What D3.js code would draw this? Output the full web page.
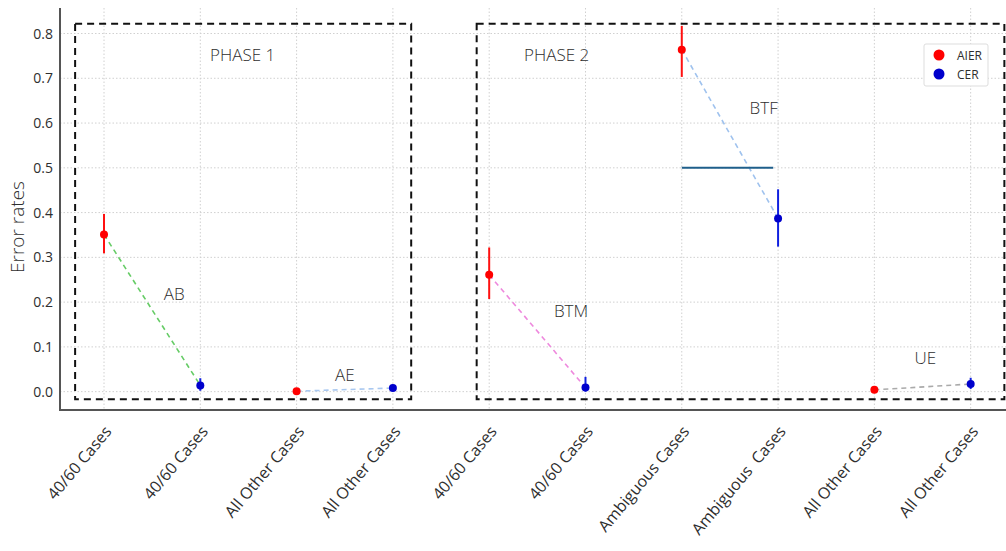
<!DOCTYPE html>
<html><head><meta charset="utf-8">
<script src="https://cdn.jsdelivr.net/npm/d3@7"></script>
<style>body{margin:0;background:#fff}svg{display:block;font-family:"Open Sans",sans-serif}</style>
</head><body><svg id="c" width="1006" height="551"></svg>
<script>
const categories = ["40/60 Cases","40/60 Cases","All Other Cases","All Other Cases","40/60 Cases","40/60 Cases","Ambiguous Cases","Ambiguous  Cases","All Other Cases","All Other Cases"];
const series = ["AIER","CER","AIER","CER","AIER","CER","AIER","CER","AIER","CER"];
const values = [0.351,0.014,0.001,0.008,0.261,0.009,0.764,0.387,0.004,0.017];
const errLow = [0.309,0.002,0.0,0.004,0.207,0.0,0.703,0.324,0.002,0.006];
const errHigh = [0.397,0.030,0.003,0.012,0.322,0.033,0.817,0.452,0.006,0.031];
const yTicks = [0.0,0.1,0.2,0.3,0.4,0.5,0.6,0.7,0.8];
const pairs = [{a:0,b:1,label:"AB",lx:0.73,ly:0.205},{a:2,b:3,label:"AE",lx:2.5,ly:0.024},{a:4,b:5,label:"BTM",lx:4.85,ly:0.167},{a:6,b:7,label:"BTF",lx:6.85,ly:0.62},{a:8,b:9,label:"UE",lx:8.53,ly:0.062}];
const pairColors = ["#66cc66","#a9c8f0","#ee88dd","#9fc2ee","#aaaaaa"];
const phases = [{label:"PHASE 1",x0:-0.3,x1:3.19,lx:1.44},{label:"PHASE 2",x0:3.87,x1:9.35,lx:4.7}];
const phaseBox = [-0.017,0.822];
const refLine = {x0:6,x1:6.95,y:0.5};
const seriesColor = {AIER:"#ff0000",CER:"#0000cc"};

const svg = d3.select("#c");
const x = d3.scaleLinear().domain([-0.457,9.45]).range([60,1014]);
const y = d3.scaleLinear().domain([-0.041,0.857]).range([410,8]);
const txt = "#2e2e2e";

// grid
svg.append("g").selectAll("line").data(yTicks).join("line")
  .attr("x1",60).attr("x2",1006).attr("y1",d=>y(d)).attr("y2",d=>y(d))
  .attr("stroke","#d0d0d0").attr("stroke-dasharray","1.5,2");
svg.append("g").selectAll("line").data(categories.map((c,i)=>i)).join("line")
  .attr("x1",d=>x(d)).attr("x2",d=>x(d)).attr("y1",8).attr("y2",410)
  .attr("stroke","#d0d0d0").attr("stroke-dasharray","1.5,2");

// y axis
const ya = svg.append("g").attr("transform","translate(60,0)")
  .call(d3.axisLeft(y).tickValues(yTicks).tickFormat(d3.format(".1f")).tickSize(0).tickPadding(7));
ya.select(".domain").remove();
ya.selectAll("text").attr("font-size",14).attr("fill",txt).attr("font-family","Open Sans");

// x axis
const xa = svg.append("g").attr("transform","translate(0,410)")
  .call(d3.axisBottom(x).tickValues(categories.map((c,i)=>i)).tickFormat(i=>categories[i]).tickSize(0));
xa.select(".domain").remove();
xa.selectAll("text").attr("font-size",16).attr("fill",txt).attr("font-family","Open Sans")
  .attr("text-anchor","end").attr("dy",null).attr("y",0).style("white-space","pre")
  .attr("transform","translate(8,22) rotate(-50)");

// spines
svg.append("line").attr("x1",60).attr("x2",1006).attr("y1",410).attr("y2",410).attr("stroke","#555").attr("stroke-width",2.2);
svg.append("line").attr("x1",60).attr("x2",60).attr("y1",8).attr("y2",411).attr("stroke","#555").attr("stroke-width",2);

// y label
svg.append("text").attr("transform","translate(24,227) rotate(-90)").attr("text-anchor","middle")
  .attr("font-size",19).attr("fill",txt).attr("font-family","Open Sans").attr("font-weight",300).text("Error rates");

// phase boxes
svg.append("g").selectAll("rect").data(phases).join("rect")
  .attr("x",d=>x(d.x0)).attr("width",d=>x(d.x1)-x(d.x0))
  .attr("y",y(phaseBox[1])).attr("height",y(phaseBox[0])-y(phaseBox[1]))
  .attr("fill","none").attr("stroke","#111").attr("stroke-width",2).attr("stroke-dasharray","7,5");
svg.append("g").selectAll("text").data(phases).join("text")
  .attr("x",d=>x(d.lx)).attr("y",61).attr("text-anchor","middle").attr("font-size",17)
  .attr("fill",txt).attr("font-family","Open Sans").attr("font-weight",300).text(d=>d.label);

// pair lines
svg.append("g").selectAll("line").data(pairs).join("line")
  .attr("x1",d=>x(d.a)).attr("y1",d=>y(values[d.a])).attr("x2",d=>x(d.b)).attr("y2",d=>y(values[d.b]))
  .attr("stroke",(d,i)=>pairColors[i]).attr("stroke-width",1.6).attr("stroke-dasharray","5,4");
svg.append("g").selectAll("text").data(pairs).join("text")
  .attr("x",d=>x(d.lx)).attr("y",d=>y(d.ly)).attr("text-anchor","middle").attr("font-size",17)
  .attr("fill",txt).attr("font-family","Open Sans").attr("font-weight",300).text(d=>d.label);

// reference line
svg.append("line").attr("x1",x(refLine.x0)).attr("x2",x(refLine.x1)).attr("y1",y(refLine.y)).attr("y2",y(refLine.y))
  .attr("stroke","#1f5f8b").attr("stroke-width",2);

// error bars
svg.append("g").selectAll("line").data(values.map((v,i)=>i)).join("line")
  .attr("x1",i=>x(i)).attr("x2",i=>x(i)).attr("y1",i=>y(errLow[i])).attr("y2",i=>y(errHigh[i]))
  .attr("stroke",i=>series[i]==="AIER"?"#ff1010":"#1020e0").attr("stroke-width",2);
// points
svg.append("g").selectAll("circle").data(values.map((v,i)=>i)).join("circle")
  .attr("cx",i=>x(i)).attr("cy",i=>y(values[i])).attr("r",4)
  .attr("fill",i=>seriesColor[series[i]]);

// legend
const lg = svg.append("g").attr("transform","translate(924,44)");
lg.append("rect").attr("width",64).attr("height",42).attr("rx",2).attr("fill","#fff").attr("stroke","#ddd");
["AIER","CER"].forEach((s,k)=>{
  lg.append("circle").attr("cx",15).attr("cy",11+k*19).attr("r",5.5).attr("fill",seriesColor[s]);
  lg.append("text").attr("x",33).attr("y",15.5+k*19).attr("font-size",12).attr("fill",txt).attr("font-family","Open Sans").text(s);
});
</script></body></html>
